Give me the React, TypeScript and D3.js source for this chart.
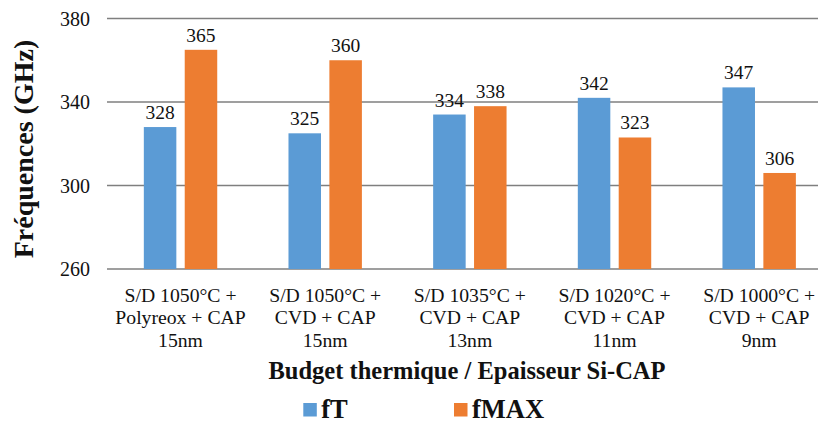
import React from "react";
import * as d3 from "d3";

const categories: string[][] = [
  ["S/D 1050°C +", "Polyreox + CAP", "15nm"],
  ["S/D 1050°C +", "CVD + CAP", "15nm"],
  ["S/D 1035°C +", "CVD + CAP", "13nm"],
  ["S/D 1020°C +", "CVD + CAP", "11nm"],
  ["S/D 1000°C +", "CVD + CAP", "9nm"],
];
const seriesNames = ["fT", "fMAX"];
const fT = [328, 325, 334, 342, 347];
const fMAX = [365, 360, 338, 323, 306];
const yTicks = [260, 300, 340, 380];
const colors = ["#5B9BD5", "#ED7D31"];

const W = 820;
const H = 423;

export default function App() {
  const series = [fT, fMAX];
  const y = d3.scaleLinear().domain([260, 380]).range([269, 18.5]);
  const x = d3
    .scaleBand<number>()
    .domain(d3.range(categories.length))
    .range([108.2, 831.5])
    .paddingInner(0)
    .paddingOuter(0);
  const bw = x.bandwidth();
  const inner = d3
    .scaleBand<number>()
    .domain(d3.range(series.length))
    .range([bw / 2 - 36.7, bw / 2 + 36.7])
    .paddingInner(0.205)
    .paddingOuter(0);
  const font = '"Liberation Serif", "Times New Roman", Times, serif';
  const gridLeft = 107;
  const gridRight = 818;
  const ts = { fontFamily: font };

  return (
    <svg
      width={W}
      height={H}
      style={{ position: "absolute", left: 0, top: 0, background: "#fff", fontFamily: font }}
    >
      {yTicks.map((t) => (
        <g key={t}>
          <line
            x1={gridLeft}
            x2={gridRight}
            y1={y(t)}
            y2={y(t)}
            stroke="#7f7f7f"
            strokeWidth={1.3}
          />
          <text
            x={90}
            y={y(t)}
            dy="0.35em"
            textAnchor="end"
            fontSize={20}
            fill="#111"
            style={ts}
          >
            {t}
          </text>
        </g>
      ))}
      {categories.map((c, i) => (
        <g key={i} transform={`translate(${x(i)},0)`}>
          {series.map((s, j) => (
            <g key={j}>
              <rect
                x={inner(j)}
                y={y(s[i])}
                width={inner.bandwidth()}
                height={y(260) - y(s[i])}
                fill={colors[j]}
              />
              <text
                x={(inner(j) as number) + inner.bandwidth() / 2}
                y={y(s[i]) - 8}
                textAnchor="middle"
                fontSize={19.5}
                fill="#111"
                style={ts}
              >
                {s[i]}
              </text>
            </g>
          ))}
          {c.map((line, k) => (
            <text
              key={k}
              x={bw / 2}
              y={301.5 + k * 22.5}
              textAnchor="middle"
              fontSize={19.7}
              fill="#111"
              style={ts}
            >
              {line}
            </text>
          ))}
        </g>
      ))}
      <text
        transform={`translate(33,149) rotate(-90)`}
        textAnchor="middle"
        fontSize={28}
        fontWeight="bold"
        fill="#111"
        style={ts}
      >
        Fréquences (GHz)
      </text>
      <text
        x={467}
        y={379}
        textAnchor="middle"
        fontSize={24.5}
        fontWeight="bold"
        fill="#111"
        style={ts}
      >
        Budget thermique / Epaisseur Si-CAP
      </text>
      {seriesNames.map((n, j) => {
        const lx = [303.3, 454][j];
        return (
          <g key={n}>
            <rect x={lx} y={403} width={13.5} height={13.5} fill={colors[j]} />
            <text
              x={lx + 18}
              y={418}
              fontSize={26.5}
              fontWeight="bold"
              fill="#111"
              style={ts}
            >
              {n}
            </text>
          </g>
        );
      })}
    </svg>
  );
}
